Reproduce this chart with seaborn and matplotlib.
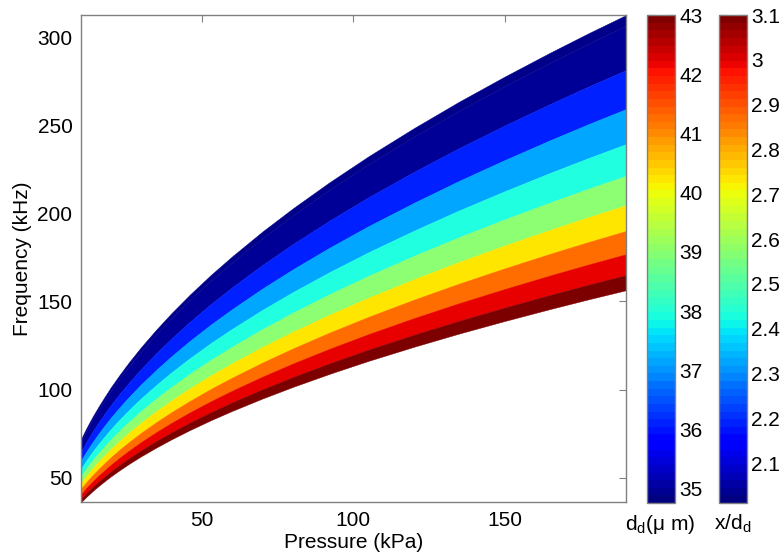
import numpy as np
import pandas as pd
import matplotlib
matplotlib.use("Agg")
import matplotlib.pyplot as plt
import matplotlib as mpl
import seaborn as sns

# -----------------------------
# Data
# -----------------------------

pressure = [10, 12, 14, 16, 18, 20, 23, 26, 30, 35, 40, 46, 53, 60,
            70, 80, 92, 105, 120, 135, 150, 165, 178, 190]

# top edge of the band stack (kHz) at each pressure
top_edge = [71.7, 78.6, 84.9, 90.7, 96.2, 101.5, 108.8, 115.7, 124.3, 134.2,
            143.5, 153.9, 165.2, 175.7, 189.8, 202.9, 217.6, 232.5, 248.5,
            263.6, 277.8, 291.4, 302.7, 312.7]

# every band edge at the right end of the axis (kHz), top first;
# the edges are scaled copies of the top edge
edge_at_190 = [312.7, 306.6, 281.4, 259.3, 239.4, 221.4, 204.7,
               190.1, 176.9, 165.0, 156.4]

band_colors = ['#000088', '#000096', '#0020ff', '#00a6ff', '#20ffdf',
               '#8cff72', '#ffe600', '#ff6c00', '#e80000', '#7c0000']

dd_range = [34.76, 43.0]
dd_ticks = [35, 36, 37, 38, 39, 40, 41, 42, 43]
xd_range = [2.011, 3.1]
xd_ticks = [2.1, 2.2, 2.3, 2.4, 2.5, 2.6, 2.7, 2.8, 2.9, 3.0, 3.1]
xd_labels = ['2.1', '2.2', '2.3', '2.4', '2.5', '2.6', '2.7', '2.8', '2.9', '3', '3.1']

# -----------------------------
# Style
# -----------------------------

sns.set_theme(style="white")
plt.rcParams['font.family'] = ['Liberation Sans', 'DejaVu Sans']
plt.rcParams['mathtext.default'] = 'regular'
plt.rcParams['text.color'] = 'black'
plt.rcParams['axes.labelcolor'] = 'black'
FS = 15
GREY = '#808080'

fig = plt.figure(figsize=(7.84, 5.58), dpi=100)
ax = fig.add_axes([0.103, 0.0995, 0.6955, 0.8736])

# -----------------------------
# Bands
# -----------------------------

df = pd.DataFrame({'P': pressure})
for i, f in enumerate(edge_at_190):
    df[f'e{i}'] = np.array(top_edge) * f / edge_at_190[0]

palette = sns.color_palette(band_colors)
for i in range(len(edge_at_190) - 1):
    ax.fill_between(df['P'], df[f'e{i + 1}'], df[f'e{i}'],
                    facecolor=palette[i], edgecolor=palette[i], linewidth=0.3)

ax.set_xlim(min(pressure), max(pressure))
ax.set_ylim(df[f'e{len(edge_at_190) - 1}'].min(), max(top_edge))
ax.set_xticks([50, 100, 150])
ax.set_yticks([50, 100, 150, 200, 250, 300])
ax.set_xlabel('Pressure (kPa)', fontsize=FS, labelpad=2)
ax.set_ylabel('Frequency (kHz)', fontsize=FS, labelpad=4)
ax.tick_params(direction='in', length=5, width=0.8, color=GREY, labelcolor='black',
               top=True, right=True, labelsize=FS, pad=6)
for s in ax.spines.values():
    s.set_color(GREY)
    s.set_linewidth(1.0)

# -----------------------------
# Colorbars
# -----------------------------

jet64 = mpl.colors.ListedColormap(plt.get_cmap('jet')(np.linspace(0, 1, 64)))


def add_bar(left, vrange, ticks, labels, label, label_x):
    cax = fig.add_axes([left, 0.0984, 0.0353, 0.8747])
    norm = mpl.colors.Normalize(vmin=vrange[0], vmax=vrange[1])
    cb = mpl.colorbar.ColorbarBase(cax, cmap=jet64, norm=norm, orientation='vertical')
    cb.set_ticks(ticks)
    cb.set_ticklabels(labels)
    cax.tick_params(direction='in', length=5, width=0.8, color='#303030',
                    labelcolor='black', left=True, right=True, labelsize=FS, pad=3)
    cb.outline.set_edgecolor(GREY)
    cb.outline.set_linewidth(1.0)
    fig.text(label_x, 0.05, label, fontsize=FS, ha='center', va='baseline')


add_bar(0.8256, dd_range, dd_ticks, [str(t) for t in dd_ticks],
        'd$_d$(\u03bc m)', 0.842)
add_bar(0.9171, xd_range, xd_ticks, xd_labels, 'x/d$_d$', 0.935)

plt.savefig('out.png', dpi=100)
